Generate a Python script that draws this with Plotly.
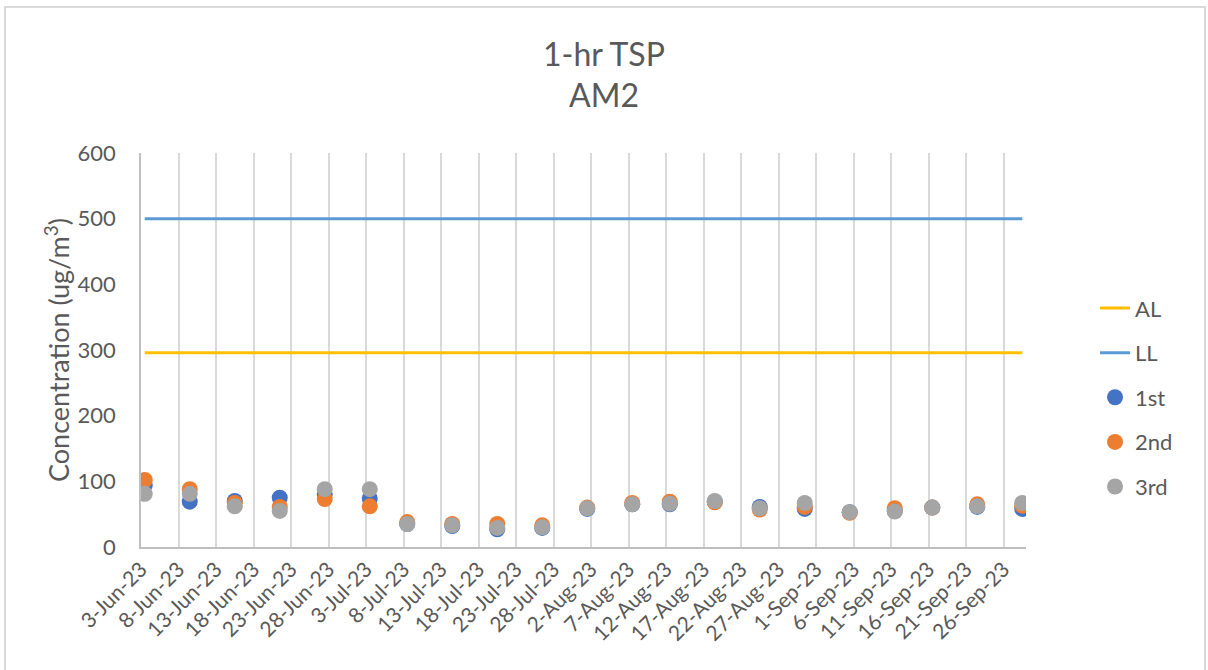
import pandas as pd
import plotly.graph_objects as go

dates = ["2023-06-03", "2023-06-09", "2023-06-15", "2023-06-21", "2023-06-27",
         "2023-07-03", "2023-07-08", "2023-07-14", "2023-07-20", "2023-07-26",
         "2023-08-01", "2023-08-07", "2023-08-12", "2023-08-18", "2023-08-24",
         "2023-08-30", "2023-09-05", "2023-09-11", "2023-09-16", "2023-09-22",
         "2023-09-28"]
first = [94, 69, 70, 75, 80, 74, 35, 32, 27, 29, 58, 65, 65, 69, 61, 58, 53, 55, 60, 61, 58]
second = [102, 88, 67, 61, 73, 62, 38, 35, 35, 33, 60, 67, 69, 68, 57, 61, 52, 59, 60, 65, 63]
third = [81, 81, 62, 55, 88, 88, 35, 33, 29, 30, 59, 65, 66, 70, 59, 67, 53, 54, 60, 62, 67]
action_level = [296] * len(dates)
limit_level = [500] * len(dates)

x = pd.to_datetime(dates) + pd.Timedelta(hours=12)

FONT = "Lato"
TXT = "#595959"

fig = go.Figure()
fig.add_trace(go.Scatter(x=x, y=action_level, mode="lines", name="AL",
                         line=dict(color="#FFC000", width=3), legendgroup="a"))
fig.add_trace(go.Scatter(x=x, y=limit_level, mode="lines", name="LL",
                         line=dict(color="#5B9BD5", width=3), legendgroup="b"))
fig.add_trace(go.Scatter(x=x, y=first, mode="markers", name="1st",
                         marker=dict(color="#4472C4", size=16), legendgroup="c"))
fig.add_trace(go.Scatter(x=x, y=second, mode="markers", name="2nd",
                         marker=dict(color="#ED7D31", size=16), legendgroup="d"))
fig.add_trace(go.Scatter(x=x, y=third, mode="markers", name="3rd",
                         marker=dict(color="#A5A5A5", size=16), legendgroup="e"))

fig.update_layout(
    width=1208, height=670,
    margin=dict(l=141, r=182, t=153, b=123),
    paper_bgcolor="white", plot_bgcolor="white",
    font=dict(family=FONT, color=TXT, size=20),
    title=dict(text="1-hr TSP<br>AM2", x=0.5, xanchor="center", y=0.902, yanchor="top",
               font=dict(family=FONT, size=32, color=TXT)),
    legend=dict(x=1.078, xanchor="left", y=0.38, yanchor="middle",
                font=dict(family=FONT, size=22, color=TXT),
                tracegroupgap=13, bgcolor="rgba(0,0,0,0)"),
    showlegend=True,
)
fig.update_xaxes(
    type="date",
    range=["2023-06-03", "2023-09-29"],
    tick0="2023-06-03", dtick=5 * 86400000,
    tickformat="%-d-%b-%y", tickangle=-45,
    tickfont=dict(family=FONT, size=21, color=TXT),
    showgrid=True, gridcolor="#D9D9D9", gridwidth=1.5,
    showline=True, linecolor="#BFBFBF", linewidth=1.5,
    ticks="", zeroline=False,
)
fig.update_yaxes(
    range=[0, 600], dtick=100,
    tickfont=dict(family=FONT, size=22, color=TXT),
    showgrid=False, zeroline=False,
    showline=True, linecolor="#BFBFBF", linewidth=1.5,
    ticks="", ticklabelstandoff=19,
    title=dict(text="Concentration (ug/m<sup>3</sup>)", standoff=0,
               font=dict(family=FONT, size=27, color=TXT)),
)
fig.add_shape(type="rect", xref="paper", yref="paper",
              x0=-0.1537, x1=1.2023, y0=-0.33, y1=1.3706,
              line=dict(color="#D9D9D9", width=2), fillcolor="rgba(0,0,0,0)", layer="below")

fig.write_html("out.html", config={"displayModeBar": False},
               post_script="document.body.style.margin='0px';")
